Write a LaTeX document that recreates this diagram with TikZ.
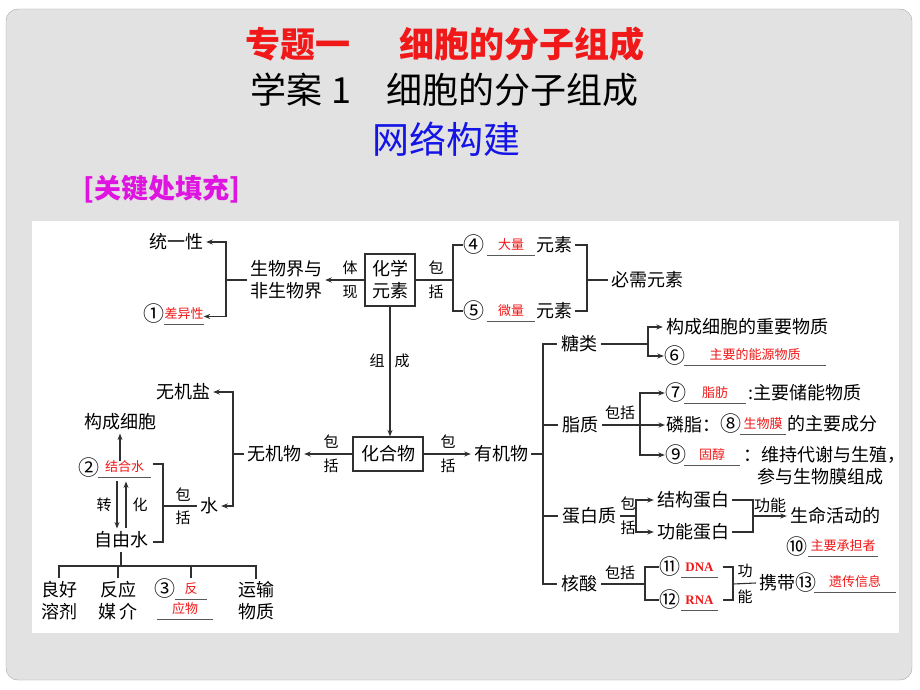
\documentclass[tikz,border=0pt]{standalone}
\usepackage{fontspec}
\setmainfont{Noto Sans CJK SC}
\newfontfamily\latinserif{Liberation Serif}
\usetikzlibrary{arrows.meta,calc}

\definecolor{panel}{HTML}{E2E2E2}
\definecolor{framegray}{HTML}{A8A8A8}
\definecolor{linegray}{HTML}{303030}
\definecolor{fillred}{HTML}{F01818}
\definecolor{headblue}{HTML}{1414E6}
\definecolor{headpink}{HTML}{E014E0}

\tikzset{txt/.style={font=\fontsize{18}{22}\selectfont,inner sep=3pt,align=center},
lbl/.style={font=\fontsize{15}{18}\selectfont,inner sep=1pt},
num/.style={font=\fontsize{21}{22}\selectfont,inner sep=0.5pt},
link/.style={draw=linegray,line width=1.1pt},
uline/.style={draw=black!65,line width=1pt},
arr/.style={link,-{Stealth[length=6.5pt,width=5pt]}},
box/.style={txt,draw=linegray,line width=1.1pt,inner sep=2pt},
blank/.style={font=\fontsize{13}{15}\selectfont,text=fillred,inner sep=0pt,text height=10pt,text depth=6pt,minimum width=#1,
  append after command={\pgfextra{\draw[uline] (\tikzlastnode.south west) -- (\tikzlastnode.south east);}}}}

\begin{document}
\begin{tikzpicture}[x=1pt,y=-1pt]
\useasboundingbox (0,0) rectangle (920,690);
\fill[white] (0,0) rectangle (920,690);
\draw[framegray,fill=panel,rounded corners=12pt] (6,9) rectangle (912,680);
\fill[white] (32,221) rectangle (899,633);

%% headings
\node[font=\bfseries\fontsize{35}{38}\selectfont,text=fillred] (h1) at (445,44) {专题一\hspace{1.4em}细胞的分子组成};
\node[font=\fontsize{36}{40}\selectfont] (h2) at (445,90) {学案 1\quad 细胞的分子组成};
\node[font=\fontsize{37}{40}\selectfont,text=headblue] (h3) at (446,139) {网络构建};
\node[font=\bfseries\fontsize{27}{30}\selectfont,text=headpink] (h4) at (162,189) {[关键处填充]};

%% coordinates of the bracket joints
\coordinate (j1) at (226,280);
\coordinate (j2) at (453,280);
\coordinate (j3) at (587,280);
\coordinate (j4) at (233,454);
\coordinate (j5) at (163,506);
\coordinate (j6) at (543,454);
\coordinate (j7) at (648,344);
\coordinate (j8) at (640,425);
\coordinate (j9) at (636,516);
\coordinate (j10) at (753,516);
\coordinate (j11) at (645,584);
\coordinate (j12) at (733,584);
\coordinate (s2a) at (153,464);
\coordinate (s2b) at (153,542);
\coordinate (s11a) at (723,567);
\coordinate (s11b) at (723,600);
\coordinate (hb) at (119,566);

%% elements
\node[txt] (ty) at (176,242) {统一性};
\node[num] (n1) at (154,314) {①};
\node[blank=38] (f1) at (184,316.5) {差异性};
\node[txt] (sw) at (286,280) {生物界与\\非生物界};
\node[box,minimum width=50pt,minimum height=52pt] (ce) at (390,280) {化学\\元素};
\node[num] (n4) at (474,245) {④};
\node[blank=48] (f4) at (511,247.5) {大量};
\node[txt] (e4) at (554,245) {元素};
\node[num] (n5) at (474,311) {⑤};
\node[blank=48] (f5) at (511,313.5) {微量};
\node[txt] (e5) at (554,311) {元素};
\node[txt] (bx) at (647,280) {必需元素};

%% compounds
\node[box,minimum width=70pt,minimum height=34pt] (hh) at (388,454) {化合物};
\node[txt] (wj) at (274,454) {无机物};
\node[txt] (wy) at (183,392) {无机盐};
\node[txt] (sh) at (209,506) {水};
\node[txt] (gc) at (120,422) {构成细胞};
\node[num] (n2) at (89,468) {②};
\node[blank=53] (f2) at (124.5,469.5) {结合水};
\node[txt] (zy) at (121,540) {自由水};
\node[txt] (q1) at (59,601) {良好\\溶剂};
\node[txt] (q2) at (118,601) {反应\\媒\hspace{3pt}介};
\node[num] (n3) at (165,589) {③};
\node[blank=32] (f3a) at (191,591.5) {反};
\node[blank=56] (f3b) at (185,611.5) {应物};
\node[txt] (q4) at (256,601) {运输\\物质};

%% organic compounds
\node[txt] (yj) at (501,454) {有机物};
\node[txt,inner sep=4pt] (tl) at (579,344) {糖类};
\node[txt,inner sep=4pt] (zz) at (580,425) {脂质};
\node[txt,inner sep=4pt] (db) at (589,516) {蛋白质};
\node[txt,inner sep=4pt] (hs) at (579,584) {核酸};
\node[txt] (gz) at (747,327) {构成细胞的重要物质};
\node[num] (n6) at (675,356) {⑥};
\node[blank=142] (f6) at (755,357.5) {主要的能源物质};
\node[num] (n7) at (676,393) {⑦};
\node[blank=62] (f7) at (715,395.5) {脂肪};
\node[txt,anchor=west] (t7) at (745,393) {:主要储能物质};
\node[txt,anchor=west,inner xsep=1pt] (lz) at (665,425) {磷脂：};
\node[num] (n8) at (731,424) {⑧};
\node[blank=46] (f8) at (763,426.5) {生物膜};
\node[txt,anchor=west] (t8) at (784,424) {的主要成分};
\node[num] (n9) at (676,455) {⑨};
\node[blank=56] (f9) at (712,457.5) {固醇};
\node[txt,anchor=west] (t9) at (740,455) {：维持代谢与生殖，};
\node[txt,anchor=west] (t9b) at (754,477) {参与生物膜组成};
\node[txt] (jg) at (693,500) {结构蛋白};
\node[txt] (gn) at (693,532) {功能蛋白};
\node[txt] (sm) at (835,516) {生命活动的};
\node[num] (n10) at (797,547) {⑩};
\node[blank=70] (f10) at (843,548.5) {主要承担者};
\node[num] (n11) at (670,567) {⑪};
\node[blank=37,font=\latinserif\bfseries\fontsize{13}{15}\selectfont] (f11) at (699.5,569.5) {DNA};
\node[num] (n12) at (670,600) {⑫};
\node[blank=37,font=\latinserif\bfseries\fontsize{13}{15}\selectfont] (f12) at (699.5,602.5) {RNA};
\node[txt] (xd) at (777,583) {携带};
\node[num] (n13) at (806,583) {⑬};
\node[blank=82] (f13) at (855,584.5) {遗传信息};

%% link labels
\node[lbl] (l1a) at (350,268) {体};
\node[lbl] (l1b) at (350,292) {现};
\node[lbl] (l2a) at (436,268) {包};
\node[lbl] (l2b) at (436,292) {括};
\node[lbl] (l3a) at (377,361) {组};
\node[lbl] (l3b) at (402,361) {成};
\node[lbl] (l4a) at (331,442) {包};
\node[lbl] (l4b) at (331,466) {括};
\node[lbl] (l5a) at (448,442) {包};
\node[lbl] (l5b) at (448,466) {括};
\node[lbl] (l6a) at (183,495) {包};
\node[lbl] (l6b) at (183,518) {括};
\node[lbl] (l7a) at (104,505) {转};
\node[lbl] (l7b) at (140,505) {化};
\node[lbl] (l8) at (620,413) {包括};
\node[lbl] (l9a) at (628,504) {包};
\node[lbl] (l9b) at (628,528) {括};
\node[lbl,font=\fontsize{16}{18}\selectfont] (l10) at (770,505) {功能};
\node[lbl] (l11) at (620,573) {包括};
\node[lbl] (l12a) at (745,571) {功};
\node[lbl] (l12b) at (745,597) {能};

%% connectors, top part
\draw[link] (sw.west) -- (j1);
\draw[arr] (j1) |- (ty.east);
\draw[arr] (j1) |- (f1.east);
\draw[arr] (ce.west) -- (sw.east);
\draw[link] (ce.east) -- (j2);
\draw[link] (n4.west) -| (j2) |- (n5.west);
\draw[link] (e4.east) -| (j3) |- (e5.east);
\draw[link] (j3) -- (bx.west);
\draw[arr] (ce.south) -- (ce.south |- hh.north);

%% connectors, inorganic part
\draw[arr] (hh.west) -- (wj.east);
\draw[link] (wj.west) -- (j4);
\draw[arr] (j4) |- (wy.east);
\draw[arr] (j4) |- (sh.east);
\draw[link] (sh.west) -- (j5);
\draw[link] (s2a) -| (j5) |- (s2b);
\draw[arr] (gc |- f2.north) -- (gc.south);
\draw[arr] ($(zy.north)+(-4,-47)$) -- ($(zy.north)+(-4,0)$);
\draw[arr] ($(zy.north)+(5,0)$) -- ($(zy.north)+(5,-47)$);
\draw[link] (zy.south) -- (zy.south |- hb);
\draw[link] (q1.north) |- (hb) -| (q4.north);
\draw[link] (q2.north) -- (q2.north |- hb);
\draw[link] (hb -| f3a) -- ++(0,12);

%% connectors, organic part
\draw[arr] (hh.east) -- (yj.west);
\draw[link] (yj.east) -- (j6);
\draw[link] (tl.west) -| (j6) |- (hs.west);
\draw[link] (j6 |- zz.west) -- (zz.west);
\draw[link] (j6 |- db.west) -- (db.west);
\draw[link] (tl.east) -- (j7);
\draw[arr] (j7) |- (gz.west);
\draw[arr] (j7) |- (n6.west);
\draw[link] (zz.east) -- (j8);
\draw[arr] (j8) |- (n7.west);
\draw[arr] (j8) -- (lz.west);
\draw[arr] (j8) |- (n9.west);
\draw[link] (db.east) -- (j9);
\draw[arr] (j9) |- (jg.west);
\draw[arr] (j9) |- (gn.west);
\draw[link] (jg.east) -| (j10) |- (gn.east);
\draw[arr] (j10) -- (sm.west);
\draw[link] (hs.east) -- (j11);
\draw[link] (n11.west) -| (j11) |- (n12.west);
\draw[link] (s11a) -| (j12) |- (s11b);
\draw[link] (j12) -- (xd.west);

\end{tikzpicture}
\end{document}
